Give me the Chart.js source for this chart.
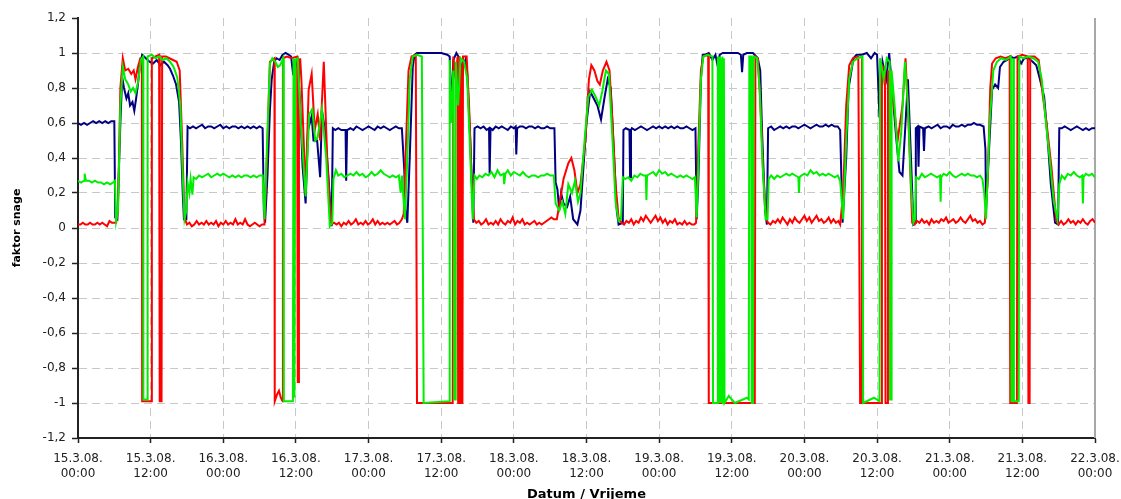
<!DOCTYPE html>
<html>
<head>
<meta charset="utf-8">
<script src="https://cdn.jsdelivr.net/npm/chart.js@4.4.1/dist/chart.umd.min.js"></script>
<style>
  html, body { margin: 0; padding: 0; background: #fff; }
  canvas { display: block; }
</style>
</head>
<body>
<canvas id="chart" width="1121" height="499"></canvas>
<script>
// x = hours since 15.3.08. 00:00, y = faktor snage
const blue = [
  [0,0.6],[0.5,0.59],[1,0.6],[1.5,0.59],[2,0.6],[2.5,0.61],[3,0.6],[3.5,0.61],[4,0.6],[4.5,0.61],[5,0.6],[5.5,0.61],[6,0.61],
  [6.15,0.06],[6.5,0.05],[7,0.6],[7.3,0.86],[7.6,0.8],[8,0.74],[8.3,0.77],[8.6,0.7],[9,0.72],[9.3,0.67],[9.6,0.74],[9.9,0.82],[10.2,0.92],[10.6,0.99],[11.2,0.97],[11.8,0.95],[12.4,0.94],[13,0.96],[13.6,0.93],[14.2,0.95],[14.8,0.93],[15.2,0.91],[15.7,0.87],[16.2,0.82],[16.7,0.72],[17,0.5],[17.3,0.2],[17.5,0.05],[17.9,0.05],[18.1,0.58],
  [18.5,0.57],[19,0.58],[19.5,0.57],[20,0.58],[20.5,0.59],[21,0.57],[21.5,0.58],[22,0.58],[22.5,0.57],[23,0.58],[23.5,0.59],[24,0.57],[24.5,0.58],[25,0.57],[25.5,0.58],[26,0.58],[26.5,0.57],[27,0.58],[27.5,0.57],[28,0.58],[28.5,0.57],[29,0.58],[29.5,0.57],[30,0.58],[30.5,0.57],
  [30.7,0.1],[30.9,0.03],[31.3,0.3],[31.7,0.67],[32,0.85],[32.4,0.95],[32.8,0.97],[33.3,0.96],[33.8,0.99],[34.3,1],[34.8,0.99],[35.2,0.98],[35.5,0.89],[35.9,0.92],[36.3,0.95],[36.7,0.7],[37.1,0.35],[37.6,0.14],[38,0.56],[38.6,0.64],[38.9,0.5],[39.5,0.5],[40,0.29],[40.3,0.67],[40.8,0.56],[41.3,0.33],[41.9,0.01],[42.1,0.57],
  [42.5,0.56],[43,0.57],[43.5,0.56],[44.2,0.56],[44.3,0.27],[44.45,0.56],[45,0.57],[45.5,0.56],[46,0.58],[46.5,0.57],[47,0.56],[47.5,0.57],[48,0.58],[48.5,0.57],[49,0.56],[49.5,0.58],[50,0.57],[50.5,0.58],[51,0.57],[51.5,0.56],[52,0.57],[52.5,0.58],[53,0.57],[53.5,0.57],
  [53.9,0.33],[54.1,0.1],[54.4,0.03],[54.8,0.4],[55.3,0.92],[55.6,0.99],[56,1],[57,1],[58,1],[59,1],[60,1],[61,0.99],[61.4,0.98],[61.7,0.66],[62,0.96],[62.5,1],[63,0.97],[63.5,0.9],[64,0.96],[64.3,0.88],[64.8,0.5],[65.3,0.03],[65.5,0.57],
  [66,0.58],[66.5,0.57],[67,0.58],[67.5,0.56],[67.9,0.57],[68,0.31],[68.15,0.57],[68.5,0.56],[69,0.58],[69.5,0.57],[70,0.58],[70.5,0.57],[71,0.56],[71.5,0.58],[72,0.57],[72.3,0.58],[72.4,0.42],[72.55,0.57],[73,0.58],[73.5,0.58],[74,0.57],[74.5,0.58],[75,0.58],[75.5,0.57],[76,0.58],[76.5,0.57],[77,0.57],[77.5,0.58],[78,0.57],[78.7,0.57],
  [78.9,0.26],[79.2,0.22],[79.5,0.1],[79.8,0.2],[80.2,0.14],[80.8,0.12],[81.3,0.18],[81.8,0.05],[82.5,0.02],[83,0.1],[83.5,0.35],[84,0.6],[84.6,0.78],[85.2,0.74],[85.8,0.7],[86.4,0.62],[87,0.75],[87.5,0.85],[88,0.8],[88.5,0.45],[89,0.1],[89.3,0.02],[90,0.03],[90.1,0.56],
  [90.5,0.57],[91.1,0.56],[91.2,0.29],[91.35,0.56],[91.5,0.57],[92,0.56],[92.5,0.57],[93,0.58],[93.5,0.57],[94,0.56],[94.5,0.57],[95,0.58],[95.5,0.57],[96,0.58],[96.5,0.57],[97,0.58],[97.5,0.57],[98,0.58],[98.5,0.57],[99,0.58],[99.5,0.57],[100,0.57],[100.5,0.58],[101,0.57],[101.5,0.56],[102,0.57],
  [102.2,0.05],[102.5,0.3],[102.9,0.85],[103.2,0.99],[103.6,0.99],[104.2,1],[104.8,0.96],[105.3,0.99],[105.7,0.92],[106,0.99],[106.5,1],[107,1],[108,1],[109,1],[109.5,0.99],[109.7,0.89],[109.9,0.99],[110.5,1],[111.5,1],[112.3,0.97],[112.7,0.9],[113,0.55],[113.5,0.1],[113.8,0.02],[114,0.57],
  [114.5,0.58],[115,0.56],[115.5,0.57],[116,0.58],[116.5,0.57],[117,0.58],[117.5,0.57],[118,0.58],[118.5,0.58],[119,0.57],[119.5,0.58],[120,0.59],[120.5,0.58],[121,0.57],[121.5,0.58],[122,0.59],[122.5,0.58],[123,0.58],[123.5,0.59],[124,0.58],[124.5,0.59],[125,0.58],[125.5,0.58],[125.9,0.56],
  [126.3,0.03],[126.9,0.4],[127.3,0.8],[128.1,0.97],[128.6,0.99],[129.5,0.99],[130.3,1],[131,0.97],[131.6,1],[132,0.99],[132.4,0.63],[132.9,0.95],[133.5,0.85],[134,1],[134.6,0.75],[135.2,0.5],[135.7,0.32],[136.2,0.3],[136.7,0.6],[137.1,0.85],[137.6,0.4],[138,0.02],[138.3,0.03],[138.4,0.57],
  [138.7,0.58],[138.85,0.35],[139,0.58],[139.6,0.57],[139.75,0.44],[139.9,0.57],[140.5,0.58],[141,0.57],[141.5,0.58],[142,0.59],[142.5,0.57],[143,0.58],[143.5,0.58],[144,0.57],[144.5,0.59],[145,0.58],[145.5,0.58],[146,0.59],[146.5,0.58],[147,0.59],[147.5,0.59],[148,0.6],[148.5,0.59],[149,0.59],[149.6,0.58],[149.9,0.45],
  [150,0.1],[150.5,0.45],[151,0.79],[151.5,0.82],[152,0.8],[152.3,0.92],[152.9,0.95],[153.5,0.96],[154,0.98],[154.6,0.97],[155.2,0.98],[155.8,0.94],[156.3,0.97],[157,0.97],[157.7,0.95],[158.3,0.93],[158.9,0.85],[159.6,0.75],[160.2,0.5],[160.7,0.25],[161.4,0.03],[161.9,0.02],[162.1,0.57],
  [162.5,0.57],[163,0.58],[163.5,0.57],[164,0.56],[164.5,0.57],[165,0.58],[165.5,0.57],[166,0.56],[166.5,0.57],[167,0.56],[167.5,0.57],[168,0.57]
];

const red = [
  [0,0.02],[0.4,0.02],[0.8,0.03],[1.2,0.02],[1.6,0.02],[2,0.03],[2.4,0.02],[2.8,0.02],[3.2,0.03],[3.6,0.02],[4,0.03],[4.4,0.02],[4.8,0.01],[5.2,0.04],[5.6,0.03],[6,0.03],[6.3,0.03],
  [6.6,0.1],[7,0.8],[7.4,0.97],[7.8,0.9],[8.3,0.91],[8.8,0.88],[9.2,0.9],[9.5,0.85],[9.9,0.92],[10.3,0.97],[10.55,0.97],[10.6,-0.99],[12.1,-0.99],[12.2,0.97],[12.8,0.98],[13.4,0.99],[13.5,-0.99],[13.8,-0.99],[13.9,0.98],[14.5,0.98],[15.1,0.97],[15.7,0.96],[16.3,0.95],[16.8,0.9],[17.2,0.5],[17.6,0.06],[18,0.02],
  [18.4,0.03],[18.8,0.01],[19.2,0.02],[19.6,0.04],[20,0.02],[20.4,0.03],[20.8,0.02],[21.2,0.04],[21.6,0.02],[22,0.03],[22.4,0.02],[22.8,0.04],[23.2,0.01],[23.6,0.03],[24,0.02],[24.4,0.04],[24.8,0.02],[25.2,0.03],[25.6,0.02],[26,0.05],[26.4,0.02],[26.8,0.03],[27.2,0.02],[27.6,0.05],[28,0.02],[28.4,0.01],[28.8,0.02],[29.2,0.03],[29.6,0.02],[30,0.01],[30.4,0.02],[30.8,0.02],
  [31.3,0.5],[31.7,0.95],[32.1,0.96],[32.45,0.97],[32.5,-0.99],[32.9,-0.95],[33.2,-0.93],[33.5,-0.97],[33.8,-0.99],[33.85,0.97],[34.5,0.98],[35.3,0.97],[36.2,0.98],[36.3,-0.88],[36.4,-0.88],[36.5,0.9],[36.7,0.97],[36.9,0.85],[37.6,0.2],[38.1,0.79],[38.6,0.88],[39.1,0.56],[39.6,0.65],[40,0.5],[40.6,0.95],[41.2,0.37],[41.8,0.02],[42.3,0.03],
  [42.7,0.02],[43.1,0.03],[43.5,0.01],[43.9,0.03],[44.3,0.02],[44.7,0.04],[45.1,0.02],[45.5,0.03],[45.9,0.05],[46.3,0.02],[46.7,0.03],[47.1,0.02],[47.5,0.04],[47.9,0.02],[48.3,0.03],[48.7,0.05],[49.1,0.02],[49.5,0.04],[49.9,0.02],[50.3,0.03],[50.7,0.02],[51.1,0.03],[51.5,0.02],[51.9,0.03],[52.3,0.04],[52.7,0.02],[53.1,0.03],[53.5,0.05],[53.8,0.08],
  [54.2,0.5],[54.6,0.9],[55.1,0.98],[55.8,0.99],[56,-1],[61.9,-1],[62,0.98],[62.4,0.85],[62.7,0.98],[62.8,-1],[62.95,-1],[63.05,0.98],[63.3,0.9],[63.35,-1],[63.5,-1],[63.6,0.98],[64.2,0.98],[64.6,0.7],[65,0.3],[65.4,0.05],[65.8,0.03],
  [66.2,0.04],[66.6,0.02],[67,0.03],[67.4,0.05],[67.8,0.02],[68.2,0.03],[68.6,0.02],[69,0.04],[69.4,0.02],[69.8,0.05],[70.2,0.03],[70.6,0.02],[71,0.04],[71.4,0.03],[71.8,0.06],[72.2,0.02],[72.6,0.04],[73,0.03],[73.4,0.05],[73.8,0.02],[74.2,0.03],[74.6,0.02],[75,0.03],[75.4,0.04],[75.8,0.02],[76.2,0.03],[76.6,0.02],[77,0.03],[77.4,0.04],[77.8,0.05],[78.2,0.06],[78.6,0.05],
  [79.1,0.05],[79.6,0.15],[80.2,0.28],[81,0.37],[81.5,0.4],[82,0.33],[82.5,0.2],[83,0.25],[83.8,0.5],[84.4,0.85],[84.8,0.93],[85.3,0.9],[85.8,0.84],[86.2,0.82],[86.7,0.9],[87.3,0.95],[87.8,0.9],[88.3,0.6],[88.8,0.25],[89.3,0.06],[89.8,0.03],
  [90.2,0.02],[90.6,0.04],[91,0.03],[91.4,0.05],[91.8,0.02],[92.2,0.04],[92.6,0.03],[93,0.06],[93.4,0.04],[93.8,0.07],[94.2,0.05],[94.6,0.03],[95,0.05],[95.4,0.07],[95.8,0.04],[96.2,0.06],[96.6,0.03],[97,0.05],[97.4,0.02],[97.8,0.04],[98.2,0.03],[98.6,0.05],[99,0.02],[99.4,0.03],[99.8,0.02],[100.2,0.04],[100.6,0.02],[101,0.03],[101.4,0.02],[101.8,0.02],[102.1,0.03],
  [102.5,0.5],[102.9,0.9],[103.3,0.98],[104.1,0.99],[104.2,-1],[111.8,-1],[111.9,0.98],[112.3,0.97],[112.7,0.73],[113.2,0.3],[113.7,0.05],[114,0.03],
  [114.4,0.02],[114.8,0.04],[115.2,0.03],[115.6,0.05],[116,0.03],[116.4,0.06],[116.8,0.04],[117.2,0.02],[117.6,0.05],[118,0.03],[118.4,0.06],[118.8,0.04],[119.2,0.03],[119.6,0.05],[120,0.07],[120.4,0.04],[120.8,0.06],[121.2,0.03],[121.6,0.05],[122,0.07],[122.4,0.04],[122.8,0.05],[123.2,0.03],[123.6,0.04],[124,0.06],[124.4,0.03],[124.8,0.05],[125.2,0.03],[125.6,0.04],[125.9,0.02],
  [126.4,0.2],[126.9,0.7],[127.4,0.93],[128,0.97],[128.9,0.98],[129.2,-1],[129.4,-1],[129.5,0.97],[129.6,-1],[132.7,-1],[132.8,0.93],[133.3,0.9],[133.4,-1],[133.7,-1],[133.8,0.9],[134.6,0.75],[135.4,0.5],[136.2,0.7],[136.7,0.97],[137.2,0.6],[137.8,0.03],[138.2,0.02],
  [138.6,0.04],[139,0.03],[139.4,0.05],[139.8,0.03],[140.2,0.04],[140.6,0.02],[141,0.05],[141.4,0.03],[141.8,0.04],[142.2,0.03],[142.6,0.05],[143,0.04],[143.4,0.06],[143.8,0.03],[144.2,0.04],[144.6,0.05],[145,0.03],[145.4,0.04],[145.8,0.06],[146.2,0.04],[146.6,0.03],[147,0.05],[147.4,0.07],[147.8,0.04],[148.2,0.05],[148.6,0.03],[149,0.04],[149.4,0.02],[149.8,0.03],
  [150.3,0.3],[150.7,0.8],[151,0.94],[151.6,0.97],[152.4,0.98],[153.2,0.97],[153.9,0.98],[154,-1],[155.1,-1],[155.2,0.98],[156,0.99],[156.9,0.98],[157,-1],[157.2,-1],[157.3,0.98],[158,0.98],[158.7,0.96],[159.4,0.75],[160,0.6],[160.8,0.35],[161.6,0.04],[162,0.02],
  [162.4,0.04],[162.8,0.02],[163.2,0.03],[163.6,0.05],[164,0.03],[164.4,0.04],[164.8,0.02],[165.2,0.04],[165.6,0.03],[166,0.05],[166.4,0.03],[166.8,0.02],[167.2,0.04],[167.6,0.05],[168,0.03]
];

const green = [
  [0,0.27],[0.5,0.26],[1,0.27],[1.1,0.31],[1.3,0.27],[1.8,0.27],[2.3,0.26],[2.8,0.27],[3.3,0.26],[3.8,0.26],[4.3,0.25],[4.8,0.26],[5.3,0.25],[5.8,0.26],[6.1,0.27],
  [6.3,0.04],[6.6,0.1],[7,0.7],[7.4,0.92],[7.8,0.85],[8.3,0.82],[8.7,0.78],[9.1,0.8],[9.5,0.77],[9.9,0.83],[10.4,0.96],[10.75,0.98],[10.8,-0.98],[11.4,-0.98],[11.5,0.98],[12.2,0.99],[12.8,0.97],[13.4,0.98],[14,0.96],[14.6,0.97],[15.2,0.95],[15.8,0.92],[16.4,0.86],[16.9,0.7],[17.3,0.3],[17.6,0.05],[17.9,0.1],[18.1,0.26],[18.4,0.2],[18.6,0.28],[18.9,0.19],[19.1,0.29],
  [19.5,0.28],[20,0.3],[20.5,0.29],[21,0.3],[21.5,0.31],[22,0.29],[22.5,0.3],[23,0.31],[23.5,0.3],[24,0.31],[24.5,0.3],[25,0.29],[25.5,0.3],[26,0.29],[26.5,0.3],[27,0.29],[27.5,0.3],[28,0.3],[28.5,0.29],[29,0.3],[29.5,0.29],[30,0.3],[30.5,0.3],
  [30.8,0.05],[31.3,0.55],[31.7,0.94],[32.1,0.97],[32.6,0.95],[33,0.92],[33.4,0.93],[33.9,0.97],[34,-0.99],[35.5,-0.99],[35.6,0.97],[35.75,-0.97],[35.9,0.96],[36.3,0.97],[36.8,0.6],[37.6,0.18],[38.2,0.65],[38.7,0.68],[39.2,0.5],[39.6,0.52],[40.3,0.68],[41,0.4],[41.6,0.01],[42,0.03],[42.2,0.28],[42.6,0.33],
  [43,0.3],[43.5,0.31],[44,0.29],[44.5,0.3],[45,0.31],[45.5,0.3],[46,0.32],[46.5,0.3],[47,0.31],[47.5,0.29],[48,0.3],[48.5,0.32],[49,0.3],[49.5,0.31],[50,0.33],[50.5,0.31],[51,0.3],[51.5,0.29],[52,0.3],[52.5,0.29],[53,0.3],[53.3,0.2],[53.5,0.3],[53.8,0.15],[54,0.05],
  [54.4,0.4],[54.8,0.85],[55.3,0.98],[56,0.99],[56.8,0.98],[57.1,-1],[61.3,-0.99],[61.4,0.96],[61.6,0.6],[62,0.9],[62.15,-0.98],[62.3,-0.98],[62.4,0.95],[62.8,0.7],[63.2,0.97],[63.8,0.95],[64.3,0.85],[64.7,0.5],[65.2,0.05],[65.5,0.3],
  [65.9,0.28],[66.3,0.3],[66.8,0.29],[67.3,0.31],[67.8,0.3],[68.3,0.32],[68.8,0.29],[69.3,0.33],[69.8,0.3],[70.3,0.31],[70.4,0.25],[70.6,0.31],[71,0.33],[71.5,0.3],[72,0.32],[72.5,0.31],[73,0.3],[73.5,0.32],[74,0.3],[74.5,0.29],[75,0.3],[75.5,0.3],[76,0.29],[76.5,0.3],[77,0.3],[77.5,0.31],[78,0.3],[78.6,0.3],
  [78.9,0.14],[79.5,0.1],[80,0.15],[80.5,0.08],[81,0.25],[81.6,0.2],[82.1,0.27],[82.6,0.15],[83,0.2],[83.8,0.55],[84.3,0.75],[84.9,0.79],[85.5,0.75],[86.1,0.7],[86.6,0.78],[87.2,0.9],[87.7,0.88],[88.3,0.5],[88.8,0.15],[89.3,0.04],[89.7,0.05],[90,0.29],
  [90.4,0.28],[90.9,0.29],[91.4,0.27],[91.9,0.3],[92.4,0.29],[92.9,0.31],[93.4,0.3],[93.8,0.3],[93.9,0.16],[94,0.3],[94.5,0.31],[95,0.32],[95.5,0.3],[96,0.33],[96.5,0.31],[97,0.32],[97.5,0.3],[98,0.31],[98.5,0.3],[99,0.29],[99.5,0.3],[100,0.29],[100.5,0.3],[101,0.29],[101.5,0.28],[101.9,0.29],
  [102.2,0.06],[102.6,0.5],[102.9,0.85],[103.3,0.98],[104,0.99],[104.8,0.98],[104.9,-1],[105.5,-1],[105.6,-1],[105.7,0.98],[105.8,-1],[105.95,0.98],[106.05,-1],[106.2,0.97],[106.3,-1],[106.45,0.98],[106.55,-1],[106.7,0.97],[106.8,-1],[107.5,-0.96],[108.5,-1],[110.5,-0.97],[110.8,-0.98],[110.9,0.98],[111.2,0.98],[111.3,-1],[111.5,-1],[111.6,0.98],[112.2,0.97],[112.6,0.8],[113.1,0.35],[113.6,0.05],[113.9,0.05],[114.1,0.28],
  [114.5,0.3],[115,0.28],[115.5,0.3],[116,0.29],[116.5,0.3],[117,0.31],[117.5,0.3],[118,0.31],[118.5,0.3],[119,0.29],[119.1,0.2],[119.2,0.29],[119.5,0.3],[120,0.31],[120.5,0.3],[121,0.33],[121.5,0.31],[122,0.32],[122.5,0.3],[123,0.31],[123.5,0.3],[124,0.31],[124.5,0.3],[125,0.29],[125.5,0.3],[125.9,0.27],
  [126.4,0.05],[126.9,0.5],[127.4,0.85],[128,0.95],[128.8,0.97],[129.6,0.98],[129.7,-1],[131.5,-0.97],[132.4,-0.99],[132.5,0.97],[133.1,0.85],[133.6,0.97],[134.1,0.95],[134.15,-0.98],[134.35,-0.98],[134.4,0.9],[134.9,0.7],[135.5,0.38],[136,0.55],[136.6,0.95],[137.1,0.7],[137.6,0.25],[138,0.03],[138.3,0.05],[138.45,0.29],
  [138.9,0.28],[139.4,0.31],[139.9,0.29],[140.4,0.3],[140.9,0.31],[141.4,0.3],[141.9,0.29],[142.4,0.3],[142.5,0.15],[142.6,0.29],[143,0.31],[143.5,0.3],[144,0.32],[144.5,0.3],[145,0.29],[145.5,0.3],[146,0.31],[146.5,0.3],[147,0.31],[147.5,0.3],[148,0.3],[148.5,0.29],[149,0.3],[149.4,0.28],[149.7,0.2],[150,0.05],
  [150.6,0.6],[151.2,0.9],[151.8,0.95],[152.5,0.97],[153.3,0.96],[154.1,0.98],[154.2,-0.99],[154.4,-0.99],[154.5,0.97],[154.6,-0.99],[155.4,-0.99],[155.5,0.98],[156.2,0.97],[157,0.98],[157.8,0.97],[158.6,0.95],[159.2,0.85],[159.9,0.6],[160.5,0.4],[161.2,0.15],[161.8,0.05],[162.1,0.25],
  [162.5,0.3],[163,0.28],[163.5,0.31],[164,0.3],[164.5,0.32],[165,0.3],[165.5,0.29],[165.9,0.3],[166,0.14],[166.1,0.29],[166.5,0.31],[167,0.3],[167.5,0.31],[168,0.29]
];

const dayLabels = ['15.3.08.', '16.3.08.', '17.3.08.', '18.3.08.', '19.3.08.', '20.3.08.', '21.3.08.', '22.3.08.'];
const timeLabels = ['00:00', '12:00'];

function fmtY(v) {
    return String(Math.round(v * 10) / 10).replace('.', ',');
}

// solid grey frame line on the right edge of the plot
const rightEdge = {
    id: 'rightEdge',
    beforeDatasetsDraw(chart) {
        const { ctx, chartArea: a } = chart;
        ctx.save();
        ctx.strokeStyle = '#a8a8a8';
        ctx.lineWidth = 2;
        ctx.beginPath();
        ctx.moveTo(a.right, a.top);
        ctx.lineTo(a.right, a.bottom);
        ctx.stroke();
        ctx.restore();
    }
};

const tickFont = { family: "'DejaVu Sans', sans-serif", size: 12, lineHeight: 1.25 };

new Chart(document.getElementById('chart'), {
    type: 'line',
    data: {
        datasets: [
            { label: 'green', data: green, borderColor: '#00ee00', backgroundColor: '#00ee00' },
            { label: 'red', data: red, borderColor: '#ff0000', backgroundColor: '#ff0000' },
            { label: 'blue', data: blue, borderColor: '#000080', backgroundColor: '#000080' }
        ]
    },
    options: {
        responsive: false,
        animation: false,
        layout: { padding: { top: 18, left: 0, right: 0, bottom: 0 } },
        plugins: { legend: { display: false }, tooltip: { enabled: false } },
        elements: { point: { radius: 0 }, line: { borderWidth: 2, tension: 0 } },
        scales: {
            x: {
                type: 'linear', min: 0, max: 168,
                ticks: {
                    stepSize: 12, autoSkip: false, maxRotation: 0, padding: 8, color: '#222', font: tickFont,
                    callback: v => [dayLabels[Math.floor(v / 24)], timeLabels[(v % 24) / 12]]
                },
                grid: { color: '#c8c8c8', lineWidth: 1, tickColor: '#222', tickLength: 5, tickWidth: 1.5 },
                border: { color: '#222', width: 2, dash: [8, 5] },
                title: {
                    display: true, text: 'Datum / Vrijeme', color: '#000',
                    font: { family: "'DejaVu Sans', sans-serif", size: 13, weight: 'bold', lineHeight: 1.2 },
                    padding: { top: 0, bottom: -3 }
                },
                afterFit(s) { s.height = 61; s.paddingLeft = 0; s.paddingRight = 26; }
            },
            y: {
                min: -1.2, max: 1.2,
                ticks: { stepSize: 0.2, padding: 6, color: '#222', font: tickFont, callback: v => fmtY(v) },
                grid: {
                    color: c => (c.tick && Math.abs(c.tick.value - 1.2) < 1e-6) ? 'rgba(0,0,0,0)' : '#c8c8c8',
                    lineWidth: 1, tickColor: '#222', tickLength: 6, tickWidth: 1.5
                },
                border: { color: '#222', width: 2, dash: [8, 5] },
                title: {
                    display: true, text: 'faktor snage', color: '#000',
                    font: { family: "'DejaVu Sans', sans-serif", size: 11, weight: 'bold', lineHeight: 1.2 },
                    padding: { top: 11, bottom: 0 }
                },
                afterFit(s) { s.width = 78; s.paddingTop = 0; s.paddingBottom = 0; }
            }
        }
    },
    plugins: [rightEdge]
});
</script>
</body>
</html>
